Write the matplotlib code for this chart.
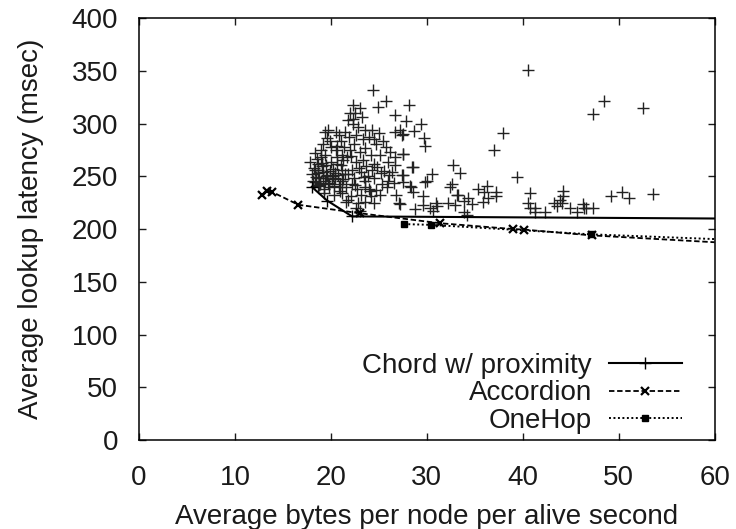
import matplotlib
matplotlib.use("Agg")
import matplotlib.pyplot as plt

plt.rcParams['font.family'] = ['Liberation Sans', 'DejaVu Sans']

# Chord w/ proximity: individual parameter combinations (bytes/node/s, latency ms)
chord_x = [40.5, 28.1, 27.8, 29.4, 28.7, 27.5, 29.7, 29.8, 37.9, 37.0, 48.5, 47.3, 52.5,
           27.5, 28.6, 32.7, 33.5, 30.5, 39.4, 27.5, 27.5, 28.2, 28.6, 30.0, 29.8, 32.6,
           32.4, 33.1, 35.3, 36.3, 36.0, 37.2, 37.2, 34.3, 34.7, 35.9, 36.4, 33.9, 29.6,
           27.2, 28.8, 29.6, 30.9, 31.1, 32.2, 32.9, 30.3, 30.6, 33.9, 40.7, 40.5, 40.7,
           41.3, 41.3, 42.3, 43.2, 43.6, 43.9, 44.2, 44.2, 44.1, 44.9, 45.6, 46.3, 46.4,
           46.6, 47.3, 49.2, 50.3, 51.1, 53.6, 34.2, 33.2,
           24.4, 22.3, 24.9, 25.7, 23.0, 22.0, 22.5, 23.2, 26.7, 21.8, 22.3, 22.8, 19.7,
           19.4, 20.5, 20.8, 23.5, 24.3, 25.0, 24.5, 26.7, 27.2, 27.4, 22.6, 22.4, 19.2,
           19.9, 21.0, 21.4, 19.0, 20.5, 24.7, 25.7, 23.5, 23.0, 18.3, 19.4, 21.1, 22.1,
           24.2, 25.1, 26.7, 27.5, 17.8, 18.6, 20.0, 20.6, 21.3, 22.6, 23.3, 24.5, 25.9,
           26.7, 28.5, 18.3, 19.2, 20.2, 21.2, 22.2, 23.1, 24.3, 25.2, 26.0, 27.4, 18.1,
           18.8, 19.4, 20.4, 21.2, 22.4, 23.6, 24.5, 25.9, 26.6, 18.6, 19.8, 20.8, 21.6,
           22.7, 23.6, 24.7, 25.8, 28.3, 19.3, 20.3, 21.1, 22.1, 23.1, 24.2, 25.1, 26.8,
           21.6, 22.8, 23.6, 24.5, 27.1, 22.6, 23.0,
           18.0, 18.4, 18.9, 19.6, 20.1, 18.2, 18.7, 19.1, 19.9, 20.7, 18.5, 19.0, 19.5,
           20.2, 21.5, 18.9, 19.3, 19.8, 20.9, 21.8, 22.9, 23.9, 24.8, 25.5, 20.0, 20.6,
           21.0, 22.0, 23.3, 24.0, 19.6, 21.9, 23.7, 26.2, 25.4, 22.2, 24.0, 21.7,
           18.3, 18.8, 19.2, 19.7, 20.3, 18.6, 19.1, 19.5, 20.4, 21.3, 20.9, 21.8,
           22.5, 23.4, 24.1, 25.3, 26.4, 20.6, 21.5, 22.3]
chord_y = [350.7, 317.5, 302.0, 299.5, 293.0, 290.0, 286.0, 279.0, 291.0, 275.0, 321.0,
           309.0, 314.5, 271.0, 258.5, 260.7, 253.0, 252.0, 249.6, 251.0, 244.5, 240.8,
           235.0, 246.0, 245.0, 242.6, 240.0, 232.0, 238.0, 241.0, 235.0, 235.0, 231.0,
           229.0, 224.0, 226.0, 229.0, 227.0, 231.0, 224.0, 219.0, 223.0, 225.0, 222.0,
           225.0, 223.0, 220.0, 217.5, 216.0, 234.0, 225.0, 220.0, 220.0, 216.0, 216.0,
           225.0, 222.0, 228.0, 236.0, 231.0, 225.0, 220.0, 216.0, 224.0, 220.0, 220.0,
           220.0, 231.0, 235.0, 229.0, 233.0, 213.0, 232.0,
           332.0, 317.5, 315.6, 321.0, 314.5, 310.0, 310.0, 306.0, 308.0, 303.0, 300.0,
           297.0, 294.0, 292.0, 292.0, 289.0, 294.0, 294.0, 291.0, 285.0, 292.0, 294.0,
           289.0, 289.0, 281.0, 281.0, 283.0, 283.0, 278.0, 275.0, 275.0, 281.0, 278.0,
           277.0, 273.0, 272.0, 270.0, 270.0, 269.0, 270.0, 270.0, 268.0, 271.0, 264.0,
           262.0, 264.0, 262.0, 265.0, 264.0, 265.0, 262.0, 264.0, 261.0, 259.0, 256.0,
           254.0, 257.0, 256.0, 256.0, 254.0, 256.0, 253.0, 251.0, 251.0, 246.0, 248.0,
           246.0, 248.0, 246.0, 248.0, 246.0, 248.0, 246.0, 244.0, 241.0, 240.0, 240.0,
           240.0, 238.0, 240.0, 237.0, 240.0, 240.0, 234.0, 232.0, 234.0, 231.0, 232.0,
           231.0, 232.0, 232.0, 226.0, 225.0, 226.0, 225.0, 225.0, 220.0, 217.0,
           252.0, 249.0, 243.0, 251.0, 247.0, 258.0, 253.0, 260.0, 255.0, 251.0, 266.0,
           268.0, 261.0, 250.0, 252.0, 244.0, 238.0, 243.0, 243.0, 252.0, 258.0, 250.0,
           259.0, 255.0, 278.0, 268.0, 261.0, 275.0, 285.0, 287.0, 286.0, 287.0, 260.0,
           273.0, 283.0, 243.0, 238.0, 268.0,
           245.0, 242.0, 248.0, 244.0, 241.0, 256.0, 263.0, 250.0, 253.0, 247.0, 236.0,
           228.0, 242.0, 249.0, 236.0, 243.0, 254.0, 279.0, 292.0, 304.0]

# convex hull of the Chord points
hull_x = [18.0, 19.6, 22.2, 60.0]
hull_y = [240.0, 227.0, 212.0, 210.0]

accordion_x = [12.8, 13.3, 13.9, 16.6, 23.0, 31.4, 39.0, 40.1, 47.2, 60.0]
accordion_y = [232.0, 236.0, 235.0, 223.0, 215.0, 205.5, 200.0, 199.5, 194.0, 187.5]

onehop_x = [27.6, 30.4, 47.1, 60.0]
onehop_y = [204.7, 204.0, 195.0, 190.5]

fig = plt.figure(figsize=(7.36, 5.29), dpi=100)
ax = fig.add_axes([0.189, 0.168, 0.782, 0.798])

ax.plot(chord_x, chord_y, linestyle='none', marker='+', color='#222222',
        markersize=8, markeredgewidth=1.0)
ax.plot(hull_x, hull_y, '-', color='black', lw=1.5, marker='+', markersize=8,
        markevery=[0, 1, 2], label='Chord w/ proximity')
ax.plot(accordion_x, accordion_y, color='black', lw=1.3, linestyle=(0, (3, 1.5)),
        marker='x', markersize=6, markeredgewidth=1.6,
        markevery=list(range(len(accordion_x) - 1)), label='Accordion')
ax.plot(onehop_x, onehop_y, color='black', lw=1.4, linestyle=(0, (1, 1.3)),
        marker='s', markersize=5, markevery=list(range(len(onehop_x) - 1)),
        label='OneHop')

ax.set_xlim(0, 60)
ax.set_ylim(0, 400)
ax.set_xticks(range(0, 61, 10))
ax.set_yticks(range(0, 401, 50))
ax.tick_params(direction='in', length=5, width=1, top=True, right=True,
               labelsize=20, colors='#1a1a1a')
ax.tick_params(axis='x', pad=18)
ax.tick_params(axis='y', pad=15)
for s in ax.spines.values():
    s.set_linewidth(1.1)

ax.set_xlabel('Average bytes per node per alive second', fontsize=20, labelpad=9,
              color='#1a1a1a')
ax.set_ylabel('Average lookup latency (msec)', fontsize=20, labelpad=20,
              color='#1a1a1a')

leg = ax.legend(loc='lower right', bbox_to_anchor=(0.958, -0.005), frameon=False,
                markerfirst=False, fontsize=20, handlelength=2.65, labelspacing=0.06,
                borderaxespad=0.0, borderpad=0.3, handletextpad=0.6)
for t in leg.get_texts():
    t.set_color('#1a1a1a')

fig.savefig('out.png', dpi=100)
